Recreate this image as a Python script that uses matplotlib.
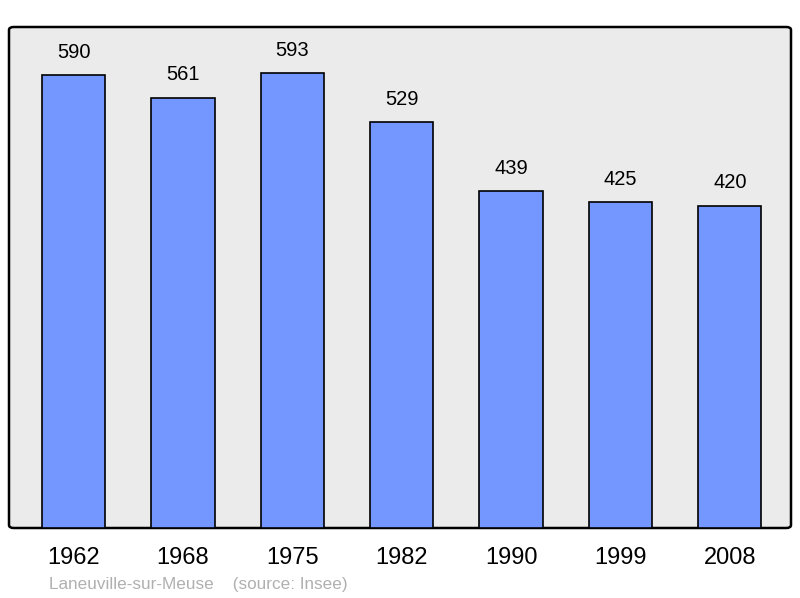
import matplotlib.pyplot as plt
from matplotlib.patches import FancyBboxPatch

## data
years = ['1962', '1968', '1975', '1982', '1990', '1999', '2008']
population = [590, 561, 593, 529, 439, 425, 420]
source_text = 'Laneuville-sur-Meuse    (source: Insee)'

plt.rcParams['font.family'] = ['Liberation Sans', 'DejaVu Sans']

fig = plt.figure(figsize=(8, 5.98), dpi=100)
ax = fig.add_axes([9/800, 70/598, 782/800, 501/598])

x = range(len(years))
bars = ax.bar(x, population, width=0.58, color='#7396ff', edgecolor='black', linewidth=1.2, zorder=2)

## value labels on top of bars
for xi, v in zip(x, population):
    ax.annotate(str(v), (xi, v), xytext=(0, 16.5), textcoords='offset points',
                ha='center', va='center', fontsize=14.5)

ax.set_xlim(-0.59, 6.56)
ax.set_ylim(0, 653)
ax.set_xticks(list(x))
ax.set_xticklabels(years, fontsize=17)
ax.tick_params(axis='x', length=0, pad=13.5)
ax.set_yticks([])

## grey rounded frame
ax.set_facecolor('none')
for s in ax.spines.values():
    s.set_visible(False)
frame = FancyBboxPatch((0, 0), 1, 1, boxstyle='round,pad=0,rounding_size=0.006',
                       transform=ax.transAxes, facecolor='#ebebeb', edgecolor='black',
                       linewidth=1.8, zorder=0, clip_on=False)
ax.add_patch(frame)

fig.text(49/800, 1 - 584/598, source_text, fontsize=12.3, color='#b0b0b0', va='center', ha='left')

plt.savefig('out.png', dpi=100)
